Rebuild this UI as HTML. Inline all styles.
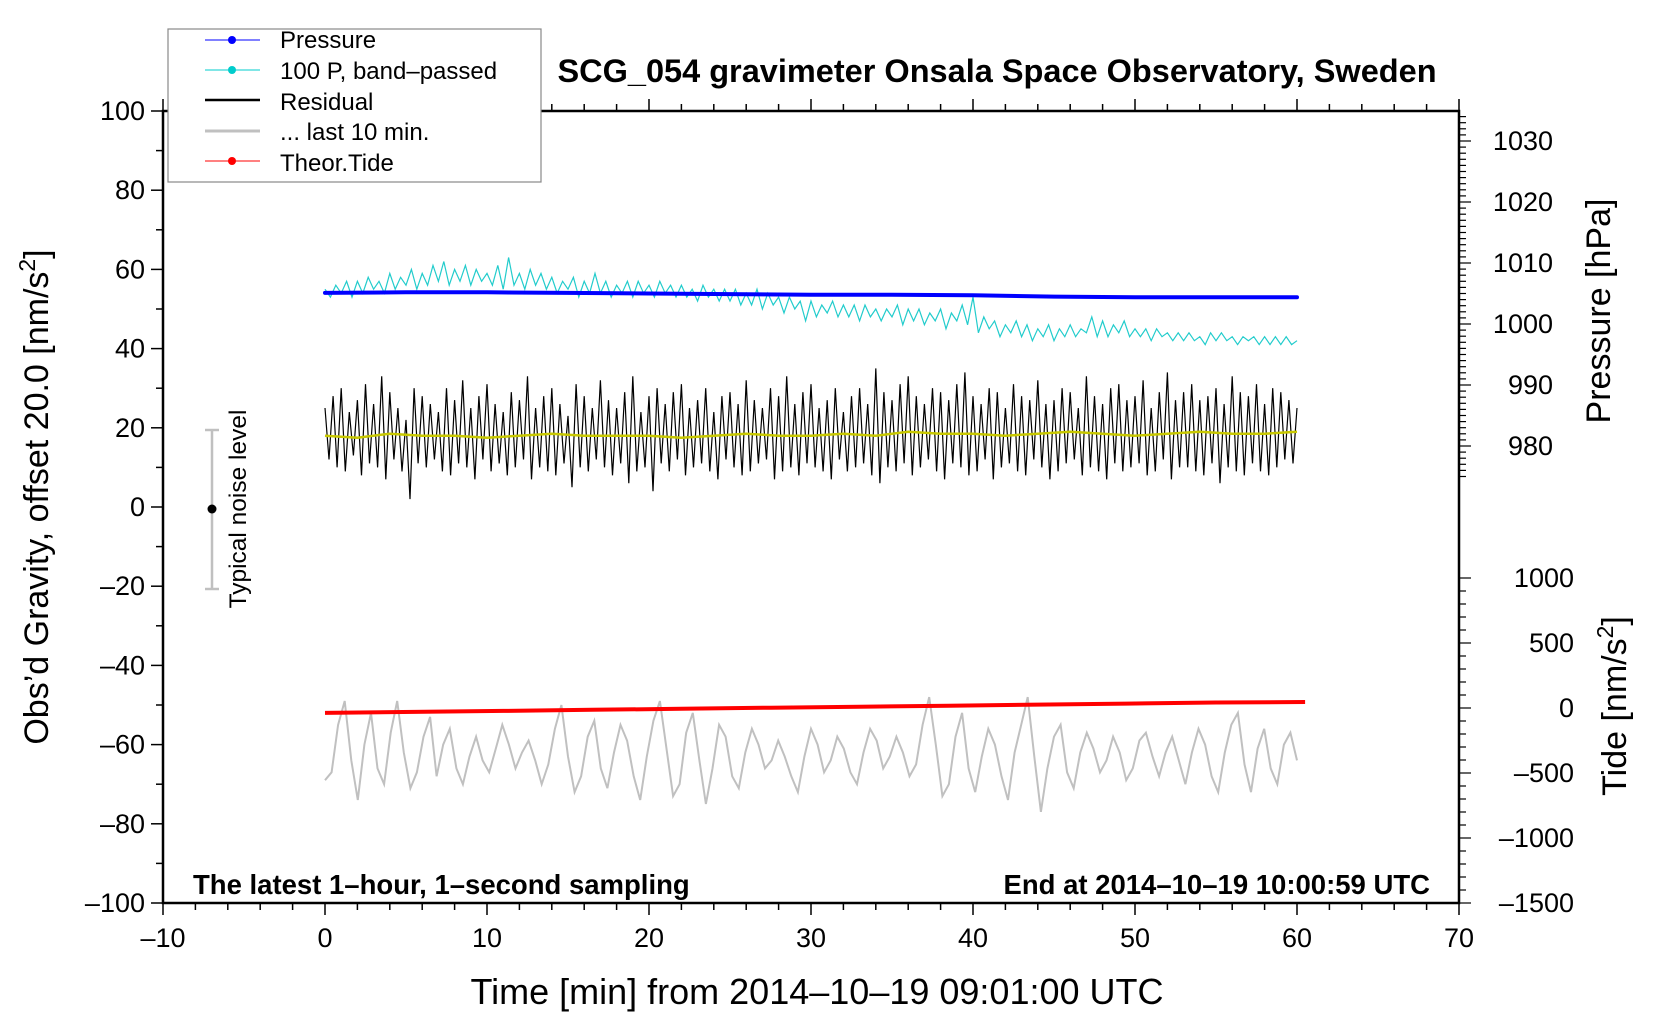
<!DOCTYPE html>
<html><head><meta charset="utf-8"><style>
html,body{margin:0;padding:0;background:#fff;}
svg{display:block;font-family:"Liberation Sans",Arial,sans-serif;}
</style></head><body>
<svg id="chart" width="1660" height="1020" viewBox="0 0 1660 1020" xmlns="http://www.w3.org/2000/svg">
<g id="marks"></g>
<g id="axes"></g>
<text x="997" y="82" font-size="32.5" font-weight="bold" text-anchor="middle">SCG_054 gravimeter Onsala Space Observatory, Sweden</text>
<text x="193" y="894" font-size="27.5" font-weight="bold">The latest 1–hour, 1–second sampling</text>
<text x="1430" y="894" font-size="27.5" font-weight="bold" text-anchor="end">End at 2014–10–19 10:00:59 UTC</text>
<text transform="translate(48,497) rotate(-90)" font-size="34" text-anchor="middle">Obs’d Gravity, offset 20.0 [nm/s<tspan dy="-13" font-size="23">2</tspan><tspan dy="13">]</tspan></text>
<text x="817" y="1004" font-size="36" text-anchor="middle">Time [min] from 2014–10–19 09:01:00 UTC</text>
<text transform="translate(1610,311) rotate(-90)" font-size="34" text-anchor="middle">Pressure [hPa]</text>
<text transform="translate(1626,706) rotate(-90)" font-size="34" text-anchor="middle">Tide [nm/s<tspan dy="-13" font-size="23">2</tspan><tspan dy="13">]</tspan></text>
<g>
<line x1="212" y1="430" x2="212" y2="589" stroke="#c0c0c0" stroke-width="2.5"/>
<line x1="205" y1="430" x2="219" y2="430" stroke="#c0c0c0" stroke-width="2.5"/>
<line x1="205" y1="589" x2="219" y2="589" stroke="#c0c0c0" stroke-width="2.5"/>
<circle cx="212" cy="509" r="4.5" fill="#000"/>
<text transform="translate(246,509) rotate(-90)" font-size="24.5" text-anchor="middle">Typical noise level</text>
</g>
<g>
<rect x="168" y="29" width="373" height="153" fill="#fff" stroke="#888" stroke-width="1.2"/>
<g><line x1="205" y1="40" x2="260" y2="40" stroke="#0000ff"/><circle cx="232" cy="40" r="4" fill="#0000ff"/><text x="280" y="48" font-size="24">Pressure</text></g>
<g><line x1="205" y1="70" x2="260" y2="70" stroke="#00cccc"/><circle cx="232" cy="70" r="4" fill="#00cccc"/><text x="280" y="79" font-size="24">100 P, band–passed</text></g>
<g><line x1="205" y1="100" x2="260" y2="100" stroke="#000" stroke-width="2.5"/><text x="280" y="110" font-size="24">Residual</text></g>
<g><line x1="205" y1="131" x2="260" y2="131" stroke="#c0c0c0" stroke-width="3"/><text x="280" y="140" font-size="24">... last 10 min.</text></g>
<g><line x1="205" y1="161" x2="260" y2="161" stroke="#ff0000"/><circle cx="232" cy="161" r="4" fill="#ff0000"/><text x="280" y="171" font-size="24">Theor.Tide</text></g>
</g>
</svg>
<script>
const pressureVals=[1005.1,1005.2,1005.2,1005.1,1005.0,1004.9,1004.8,1004.8,1004.7,1004.5,1004.4,1004.4,1004.4];
const bandPassed=[55,53,56,54,57,53,57,54,58,55,57,54,59,55,58,56,60,55,59,56,61,57,62,56,60,57,61,56,60,57,59,56,61,55,63,56,59,55,60,56,59,55,58,54,57,55,58,53,57,54,59,54,57,53,56,54,57,53,57,54,56,53,57,54,56,53,56,53,55,52,56,53,55,52,55,52,55,51,54,51,55,50,54,51,53,49,53,50,52,47,52,48,51,49,52,48,51,48,51,47,51,48,50,47,50,48,51,46,50,47,50,46,49,47,50,45,49,47,51,46,53,44,48,45,47,43,46,44,47,43,46,42,45,43,46,42,45,43,46,43,45,44,48,43,47,43,46,44,47,43,45,43,45,42,45,43,44,42,44,42,44,42,43,41,44,42,44,42,43,41,43,42,43,41,43,41,43,41,43,41,42];
const residual=[25,12,28,10,30,9,24,13,27,8,31,11,26,10,33,7,29,12,25,9,22,2,30,11,28,10,26,12,24,9,30,8,27,11,32,10,25,7,28,12,31,9,26,11,24,8,29,10,27,12,33,7,25,10,28,9,30,8,26,11,23,5,31,10,28,9,25,12,32,10,27,8,25,11,29,6,33,9,24,10,28,4,30,11,26,9,29,12,31,8,25,10,27,11,30,9,24,7,28,12,29,10,26,8,32,9,27,11,25,12,30,7,28,9,33,10,26,8,29,11,31,10,25,9,27,7,30,12,24,9,28,10,30,11,26,8,35,6,29,10,27,9,31,11,33,8,28,10,26,12,30,9,29,7,27,11,31,10,34,8,28,9,26,12,30,7,29,10,25,11,31,9,28,8,27,12,32,10,26,7,27,9,30,11,29,12,25,8,33,10,28,9,26,7,30,11,31,9,27,10,28,11,32,8,25,9,29,12,34,7,27,10,29,10,31,9,27,8,28,11,30,6,26,10,33,9,29,8,28,11,31,9,26,8,30,10,29,12,27,11,25];
const smoothed=[18,17.5,18.5,18,18,17.5,18,18.5,18,18,18,17.5,18,18.5,18,18,18.5,18,19,18.5,18.5,18,18.5,19,18.5,18,18.5,19,18.5,18.5,19];
const last10=[-69,-67,-55,-49,-64,-74,-60,-52,-66,-70,-57,-49,-62,-71,-67,-58,-53,-68,-60,-56,-66,-70,-63,-58,-64,-67,-61,-55,-60,-66,-62,-59,-64,-70,-65,-56,-50,-63,-72,-68,-58,-54,-66,-71,-62,-55,-59,-68,-74,-63,-54,-49,-61,-73,-70,-57,-52,-64,-75,-66,-55,-58,-68,-71,-62,-56,-60,-66,-64,-59,-63,-68,-72,-63,-56,-60,-67,-64,-58,-61,-67,-70,-62,-56,-59,-66,-63,-58,-62,-68,-65,-55,-48,-60,-73,-70,-58,-52,-66,-72,-63,-56,-60,-68,-74,-62,-55,-48,-63,-77,-66,-58,-55,-67,-71,-62,-57,-61,-67,-64,-58,-62,-69,-66,-59,-57,-63,-68,-62,-58,-64,-70,-62,-56,-60,-68,-72,-62,-55,-52,-65,-72,-61,-56,-66,-70,-60,-57,-64];
const tideVals=[-38,-30,-22,-14,-6,2,10,18,26,34,42,46];
const xTicks=[-10,0,10,20,30,40,50,60,70];
const yTicks=[100,80,60,40,20,0,-20,-40,-60,-80,-100];
const pTicks=[1030,1020,1010,1000,990,980];
const tTicks=[1000,500,0,-500,-1000,-1500];

const X0=163,X1=1459,Y0=111,Y1=903;
const xs=v=>X0+(v+10)/80*(X1-X0);
const ys=v=>Y1-(v+100)/200*(Y1-Y0);
const ps=v=>324-(v-1000)*6.1;
const ts=v=>708-v*0.13;
const NS="http://www.w3.org/2000/svg";
const marks=document.getElementById('marks');
const axes=document.getElementById('axes');
function mk(tag,attrs,parent){const e=document.createElementNS(NS,tag);for(const k in attrs)e.setAttribute(k,attrs[k]);parent.appendChild(e);return e;}
function series(vals,x0,x1,yfn){return vals.map((v,i)=>xs(x0+(x1-x0)*i/(vals.length-1)).toFixed(1)+','+yfn(v).toFixed(1)).join(' ');}

let e;
e=mk('polyline',{points:series(bandPassed,0,60,ys),fill:'none',stroke:'#22cccc','stroke-width':1.2},marks);


e=mk('polyline',{points:series(pressureVals,0,60,ps),fill:'none',stroke:'#0000ff','stroke-width':4,'stroke-linecap':'round'},marks);


e=mk('polyline',{points:series(residual,0,60,ys),fill:'none',stroke:'#000','stroke-width':1.2},marks);


e=mk('polyline',{points:series(smoothed,0,60,ys),fill:'none',stroke:'#c8c800','stroke-width':2.5},marks);


e=mk('polyline',{points:series(last10,0,60,ys),fill:'none',stroke:'#c0c0c0','stroke-width':2},marks);


e=mk('polyline',{points:series(tideVals,0,60.5,ts),fill:'none',stroke:'#ff0000','stroke-width':4},marks);



e=mk('rect',{x:X0,y:Y0,width:X1-X0,height:Y1-Y0,fill:'none',stroke:'#000','stroke-width':2.5},axes);


for(let v=-10;v<=70;v+=2){const x=xs(v);const major=v%10===0;
mk('line',{x1:x,y1:Y1,x2:x,y2:Y1+(major?12:7),stroke:'#000','stroke-width':1.5},axes);
mk('line',{x1:x,y1:Y0,x2:x,y2:Y0-(major?12:7),stroke:'#000','stroke-width':1.5},axes);}
xTicks.forEach(v=>{const t=mk('text',{x:xs(v),y:Y1+44,'font-size':27,'text-anchor':'middle'},axes);t.textContent=String(v).replace('-','–');

});
for(let v=-100;v<=100;v+=10){const y=ys(v);mk('line',{x1:X0,y1:y,x2:X0-(v%20===0?12:7),y2:y,stroke:'#000','stroke-width':1.5},axes);}
yTicks.forEach(v=>{const t=mk('text',{x:X0-18,y:ys(v)+9,'font-size':27,'text-anchor':'end'},axes);t.textContent=String(v).replace('-','–');

});
for(let v=975;v<=1034;v++){const y=ps(v);mk('line',{x1:X1,y1:y,x2:X1+(v%10===0?12:7),y2:y,stroke:'#000','stroke-width':1.2},axes);}
pTicks.forEach(v=>{const t=mk('text',{x:1553,y:ps(v)+9,'font-size':27,'text-anchor':'end'},axes);t.textContent=v;

});
for(let v=-1500;v<=1000;v+=100){const y=ts(v);mk('line',{x1:X1,y1:y,x2:X1+(v%500===0?12:7),y2:y,stroke:'#000','stroke-width':1.2},axes);}
tTicks.forEach(v=>{const t=mk('text',{x:1574,y:ts(v)+9,'font-size':27,'text-anchor':'end'},axes);t.textContent=String(v).replace('-','–');

});
</script>
</body></html>
